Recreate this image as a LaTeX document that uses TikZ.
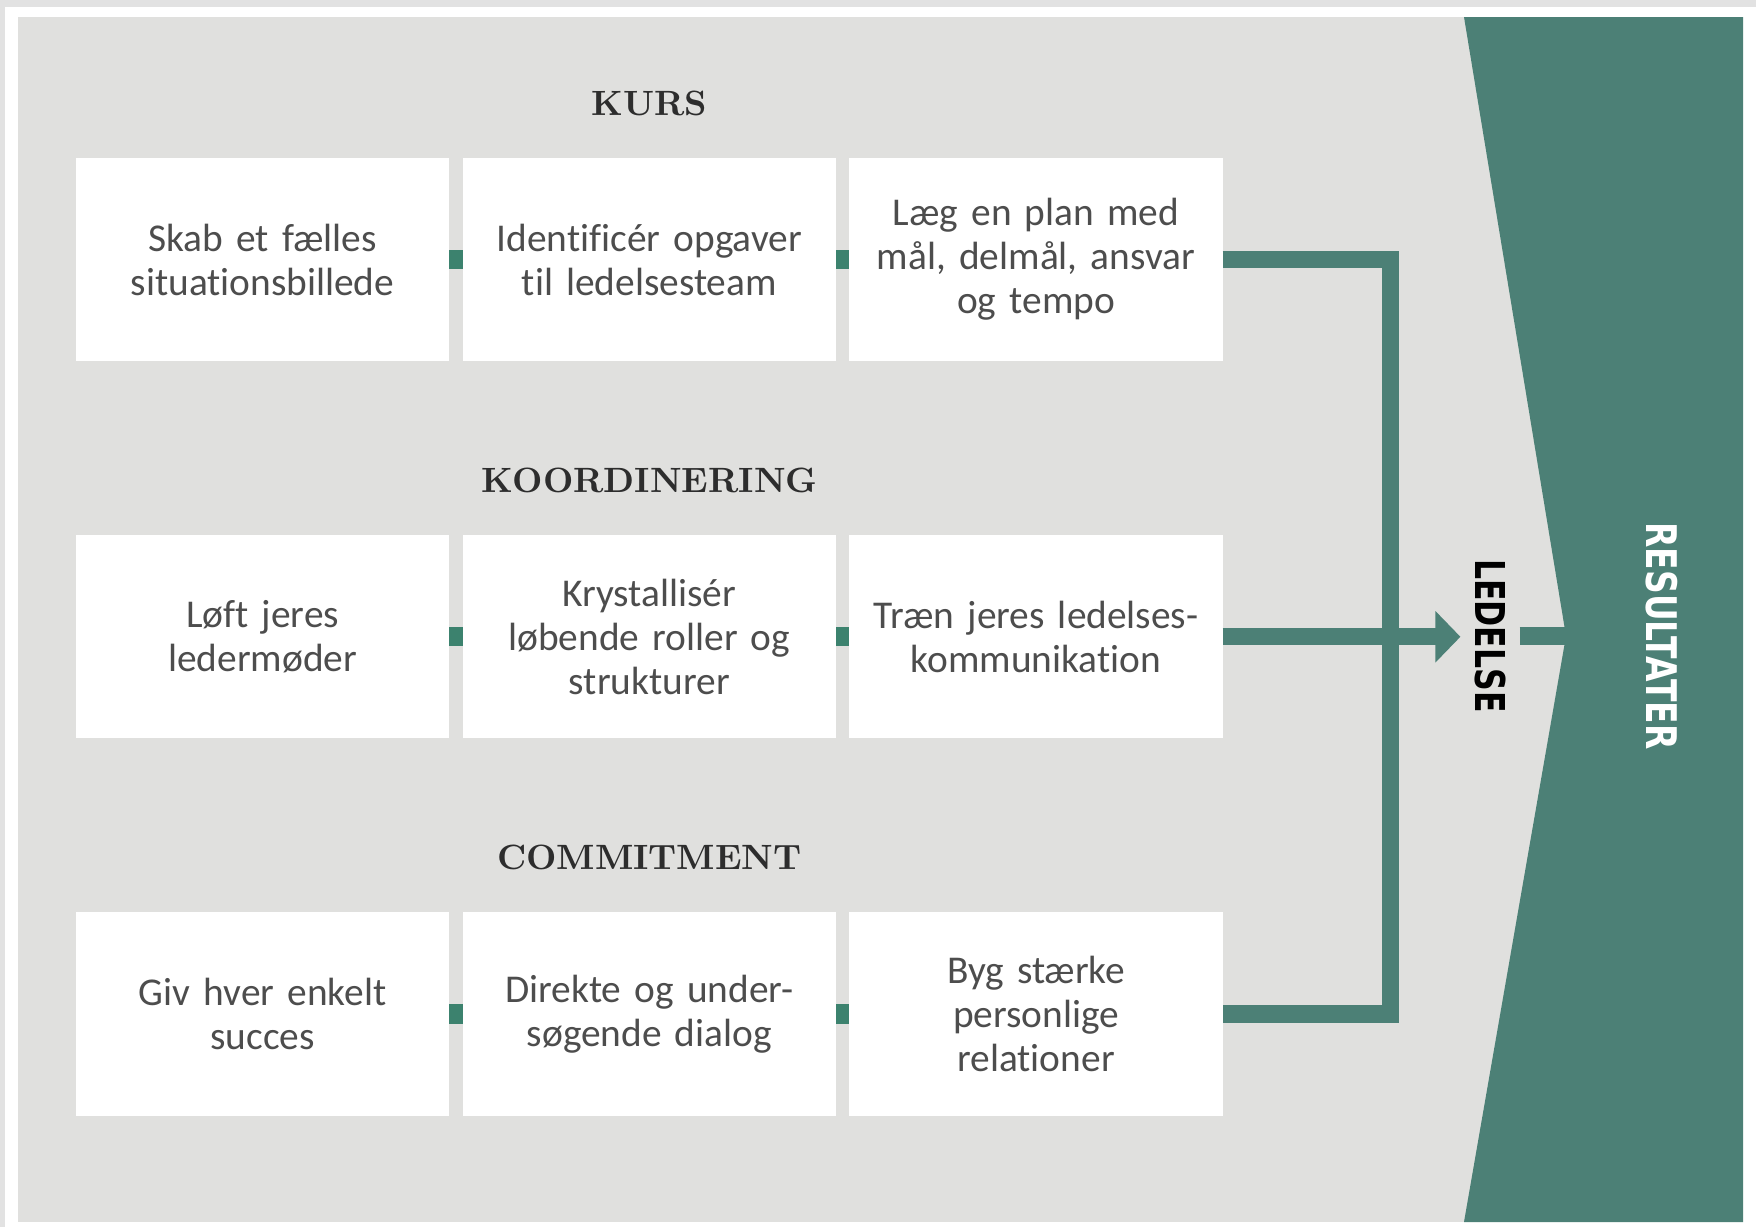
\documentclass[tikz,border=0pt]{standalone}
\usepackage{fontspec}
\newfontfamily\boxfont[Ligatures=NoCommon, WordSpace=0.8]{Carlito}
\newfontfamily\barfont{DejaVu Sans}
\usetikzlibrary{positioning}
\usetikzlibrary{calc}
\usetikzlibrary{arrows.meta}
\definecolor{panelgray}{RGB}{224,224,222}
\definecolor{framegray}{RGB}{226,226,226}
\definecolor{tealdark}{RGB}{76,128,118}
\definecolor{tealdot}{RGB}{60,130,110}
\definecolor{textgray}{RGB}{77,77,77}
\definecolor{headgray}{RGB}{45,45,45}

\begin{document}
\begin{tikzpicture}[x=0.01cm, y=-0.01cm, node distance=0pt, outer sep=0pt]
    \tikzstyle{block}=[fill=white, minimum width=3.73cm, minimum height=2.03cm, inner sep=0pt, text width=3.6cm, align=center, text=textgray, font=\boxfont\fontsize{11.2}{12.5}\selectfont]
    \tikzstyle{link}=[fill=tealdot, minimum width=0.135cm, minimum height=0.19cm, inner sep=0pt]
    \tikzstyle{head}=[text=headgray, font=\fontsize{10}{12}\selectfont\bfseries]
    \tikzstyle{flow}=[draw=tealdark, line width=0.17cm, line join=miter]
    \tikzstyle{vlabel}=[rotate=-90, inner sep=0.14cm, font=\barfont\bfseries]

    \useasboundingbox (0,0) rectangle (1756,1227);
    \fill[white] (0,0) rectangle (1756,1227);
    \fill[framegray] (0,0) rectangle (1756,7);
    \fill[framegray] (0,0) rectangle (5,1227);
    \fill[panelgray] (18,17) rectangle (1743,1222);

    % KURS
    \node[block, anchor=north west] (b11) at (76,158) {Skab et fælles\\situationsbillede};
    \node[link, right=of b11] (s11) {};
    \node[block, right=of s11] (b12) {Identificér opgaver\\til ledelsesteam};
    \node[link, right=of b12] (s12) {};
    \node[block, right=of s12] (b13) {Læg en plan med\\mål, delmål, ansvar\\og tempo};
    \node[head, above=0.3cm of b12] (h1) {KURS};

    % KOORDINERING
    \node[block, below=1.74cm of b11] (b21) {Løft jeres\\ledermøder};
    \node[link, right=of b21] (s21) {};
    \node[block, right=of s21] (b22) {Krystallisér\\løbende roller og\\strukturer};
    \node[link, right=of b22] (s22) {};
    \node[block, right=of s22] (b23) {Træn jeres ledelses-\\kommunikation};
    \node[head, above=0.31cm of b22] (h2) {KOORDINERING};

    % COMMITMENT
    \node[block, below=1.74cm of b21] (b31) {Giv hver enkelt\\succes};
    \node[link, right=of b31] (s31) {};
    \node[block, right=of s31] (b32) {Direkte og under-\\søgende dialog};
    \node[link, right=of b32] (s32) {};
    \node[block, right=of s32] (b33) {Byg stærke\\personlige\\relationer};
    \node[head, above=0.31cm of b32] (h3) {COMMITMENT};

    \node[vlabel] (ledelse) at (1490,636) {\fontsize{11.7}{14}\selectfont\scalebox{0.765}[1]{LEDELSE}};
    \coordinate (bus) at (1390,636);
    \coordinate (tip) at (1566,636);

    \draw[flow] (b13.east) -| (bus) |- (b33.east);
    \draw[flow, -{Triangle[length=0.25cm, width=0.5cm]}] (b23.east) -- (b23.east -| ledelse.south);
    \draw[flow] (ledelse.north |- tip) -- (tip);

    \fill[tealdark] (1464,17) -- (1743,17) -- (1743,1222) -- (1464,1222) -- (tip) -- cycle;
    \node[vlabel, text=white] (result) at (1662,636) {\fontsize{12}{14}\selectfont\scalebox{0.78}[1]{RESULTATER}};
\end{tikzpicture}
\end{document}
